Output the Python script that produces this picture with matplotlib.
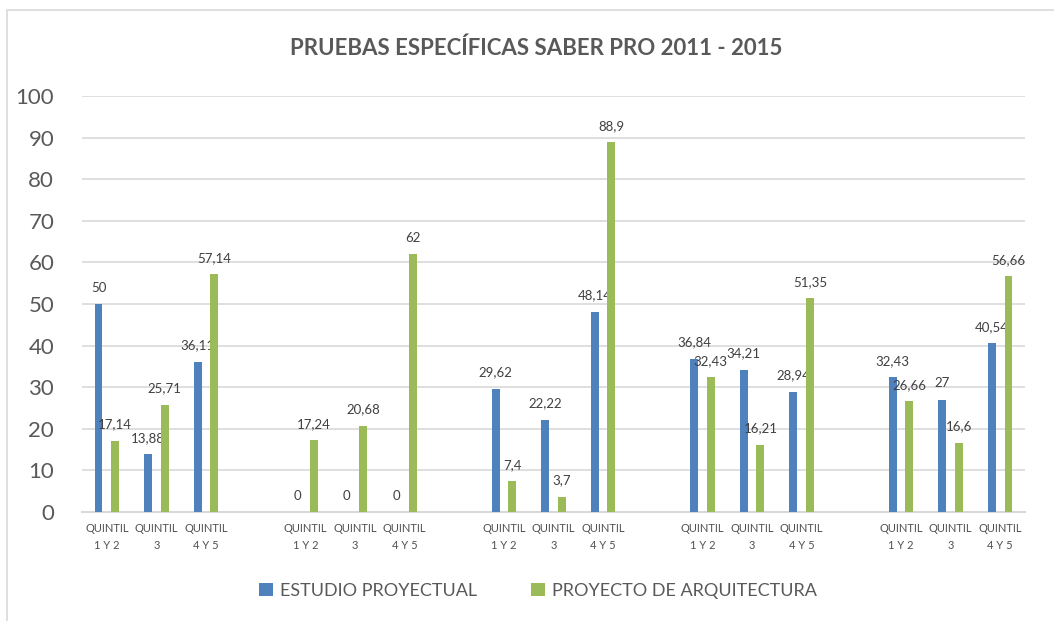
import numpy as np
import matplotlib.pyplot as plt
from matplotlib.patches import Rectangle

plt.rcParams['font.family'] = ['Lato', 'DejaVu Sans']

# categories (blank slots separate the five years)
categories = ['QUINTIL\n1 Y 2', 'QUINTIL\n3', 'QUINTIL\n4 Y 5', '',
              'QUINTIL\n1 Y 2', 'QUINTIL\n3', 'QUINTIL\n4 Y 5', '',
              'QUINTIL\n1 Y 2', 'QUINTIL\n3', 'QUINTIL\n4 Y 5', '',
              'QUINTIL\n1 Y 2', 'QUINTIL\n3', 'QUINTIL\n4 Y 5', '',
              'QUINTIL\n1 Y 2', 'QUINTIL\n3', 'QUINTIL\n4 Y 5']
nan = np.nan
estudio = [50, 13.88, 36.11, nan,
           0, 0, 0, nan,
           29.62, 22.22, 48.14, nan,
           36.84, 34.21, 28.94, nan,
           32.43, 27, 40.54]
proyecto = [17.14, 25.71, 57.14, nan,
            17.24, 20.68, 62, nan,
            7.4, 3.7, 88.9, nan,
            32.43, 16.21, 51.35, nan,
            26.66, 16.6, 56.66]
series_names = ['ESTUDIO PROYECTUAL', 'PROYECTO DE ARQUITECTURA']
colors = ['#4F81BD', '#9BBB59']
title = 'PRUEBAS ESPECÍFICAS SABER PRO 2011 - 2015'

fig = plt.figure(figsize=(10.54, 6.21), dpi=100)
ax = fig.add_axes([82/1054, 1 - 512/621, 943/1054, 416/621])

x = np.arange(len(categories))
w = 0.16
off = 0.168
for vals, name, col, sign in zip([estudio, proyecto], series_names, colors, [-1, 1]):
    vals = np.array(vals, dtype=float)
    ok = ~np.isnan(vals)
    bars = ax.bar(x[ok] + sign * off, vals[ok], width=w, color=col, label=name, zorder=3)
    for b, v in zip(bars, vals[ok]):
        txt = f"{v:g}".replace('.', ',')
        ax.annotate(txt, (b.get_x() + b.get_width() / 2, v), xytext=(0, 7.5),
                    textcoords='offset points', ha='center', va='bottom',
                    fontsize=9.5, color='#404040')

ax.set_xlim(-0.5, len(categories) - 0.5)
ax.set_ylim(0, 100)
ax.set_yticks(range(0, 101, 10))
ax.set_xticks(x)
ax.set_xticklabels(categories, fontsize=8, color='#505050', linespacing=1.6)
ax.tick_params(axis='x', length=0, pad=8)
ax.tick_params(axis='y', length=0, pad=20, labelsize=16, labelcolor='#595959')
ax.grid(axis='y', color='#D9D9D9', linewidth=1.2, zorder=0)
for s in ['top', 'right', 'left']:
    ax.spines[s].set_visible(False)
ax.spines['bottom'].set_color('#D9D9D9')
ax.spines['bottom'].set_linewidth(1.5)

fig.text(536/1054, 1 - 48/621, title, ha='center', va='center',
         fontsize=16, fontweight='bold', color='#595959')

fig.legend(loc='center', bbox_to_anchor=(538/1054, 1 - 591/621), ncol=2,
           frameon=False, fontsize=13, labelcolor='#595959',
           handlelength=0.75, handleheight=0.75, handletextpad=0.4,
           columnspacing=3.0)

# light frame around the chart area
fig.add_artist(Rectangle((6.5/1054, -0.1), 2, 1 - 10/621 + 0.1,
                         transform=fig.transFigure, fill=False,
                         edgecolor='#D9D9D9', linewidth=1.2))

fig.savefig('out.png', dpi=100)
